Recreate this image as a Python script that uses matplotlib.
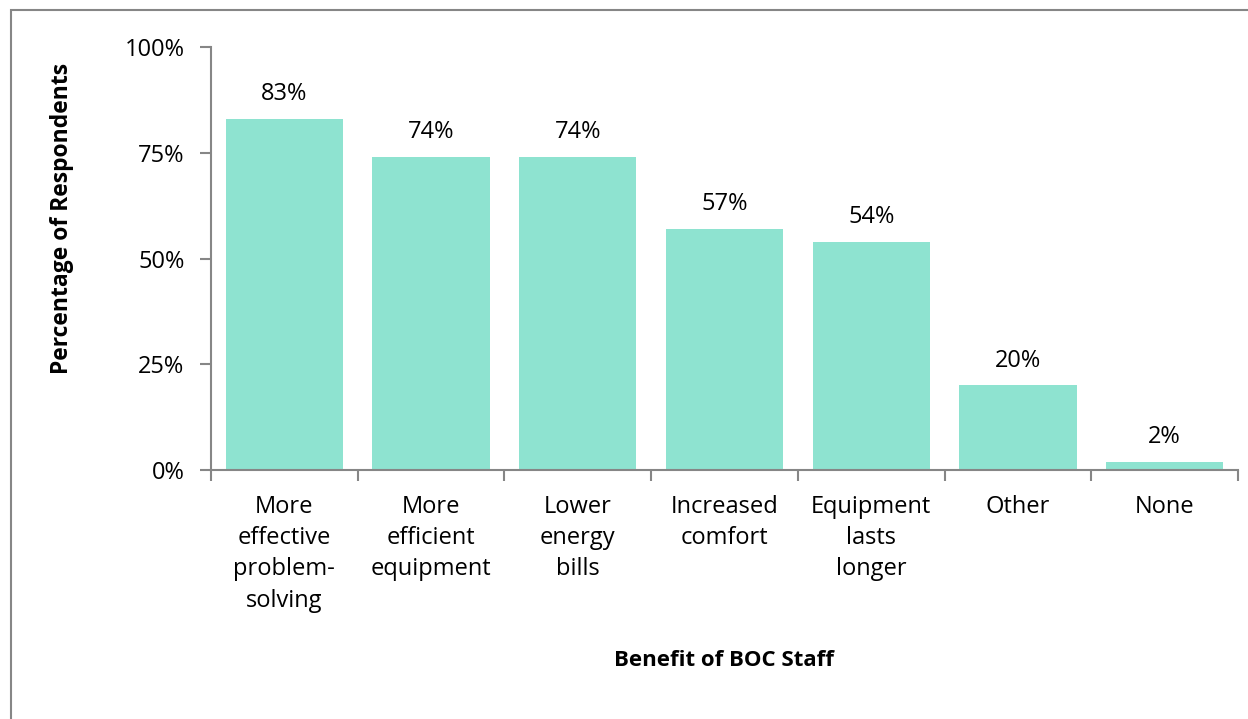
import matplotlib.pyplot as plt
from matplotlib.patches import Rectangle

categories = ['More\neffective\nproblem-\nsolving', 'More\nefficient\nequipment', 'Lower\nenergy\nbills',
              'Increased\ncomfort', 'Equipment\nlasts\nlonger', 'Other', 'None']
values = [83, 74, 74, 57, 54, 20, 2]
y_ticks = [0, 25, 50, 75, 100]

plt.rcParams['font.family'] = ['Open Sans', 'DejaVu Sans']
bar_color = '#8ee3d0'
axis_color = '#868686'
fs = 17

fig = plt.figure(figsize=(12.48, 7.19), dpi=100)
# frame around the figure area
fig.patches.append(Rectangle((11 / 1248, -0.1), 1.2, 1 - 10 / 719 + 0.1, transform=fig.transFigure,
                             fill=False, edgecolor=axis_color, linewidth=1.5))

ax = fig.add_axes([211 / 1248, 1 - 470 / 719, (1238 - 211) / 1248, (470 - 47) / 719])
x = range(len(values))
ax.bar(x, values, width=0.8, color=bar_color)
for xi, v in zip(x, values):
    ax.text(xi, v + 3, f'{v}%', ha='center', va='bottom', fontsize=fs)

ax.set_xlim(-0.5, len(values) - 0.5)
ax.set_ylim(0, 100)
ax.set_yticks(y_ticks)
ax.set_yticklabels([f'{t}%' for t in y_ticks], fontsize=fs)
ax.set_xticks([i - 0.5 for i in range(len(values) + 1)])
ax.set_xticklabels([])
ax.set_xticks(list(x), minor=True)
ax.set_xticklabels(categories, minor=True, fontsize=fs, linespacing=1.4, va='top')
ax.tick_params(axis='x', which='minor', length=0, pad=18)
ax.tick_params(axis='both', which='major', length=8, width=1.5, color=axis_color)
ax.tick_params(axis='y', pad=11)

for side in ['top', 'right']:
    ax.spines[side].set_visible(False)
for side in ['left', 'bottom']:
    ax.spines[side].set_color(axis_color)
    ax.spines[side].set_linewidth(1.5)

fig.text(62 / 1248, 1 - 218 / 719, 'Percentage of Respondents', rotation=90, ha='center', va='center',
         fontsize=16.5, fontweight='bold')
fig.text(724 / 1248, 1 - 660 / 719, 'Benefit of BOC Staff', ha='center', va='center',
         fontsize=16, fontweight='bold')

fig.savefig('out.png', dpi=100)
